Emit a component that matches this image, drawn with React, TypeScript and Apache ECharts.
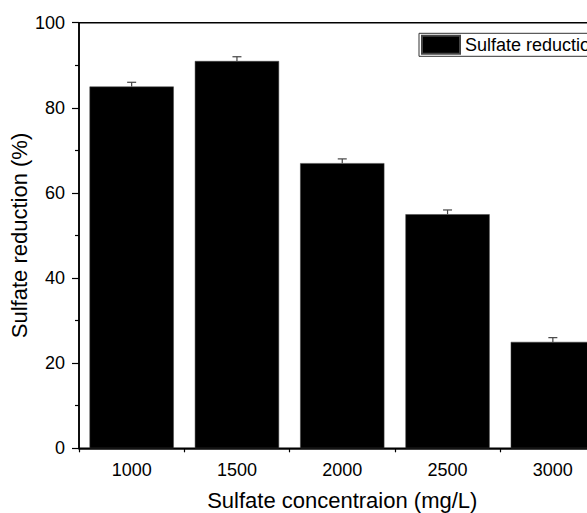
import React, { useEffect, useRef } from "react";
import * as echarts from "echarts";

const categories = ["1000", "1500", "2000", "2500", "3000"];
const reduction = [85, 91, 67, 55, 25];
const errors = [1, 1, 1, 1, 1];
const FONT = "Liberation Sans, Arial, sans-serif";

export default function App() {
  const ref = useRef<HTMLDivElement>(null);
  useEffect(() => {
    if (!ref.current) return;
    const chart = echarts.init(ref.current, null, { renderer: "svg" });
    chart.setOption({
      animation: false,
      backgroundColor: "#fff",
      textStyle: { fontFamily: FONT },
      grid: {
        left: 79,
        top: 22.7,
        width: 526.5,
        bottom: 64.7,
        show: true,
        borderColor: "#000",
        borderWidth: 1.5,
        backgroundColor: "transparent",
        outerBoundsMode: "none",
        containLabel: false,
      },
      legend: {
        data: [{ name: "Sulfate reduction", icon: "rect" }],
        left: 419,
        top: 33.3,
        itemWidth: 38,
        itemHeight: 18,
        padding: [1.5, 6, 1.5, 2],
        borderColor: "#333",
        borderWidth: 1,
        borderRadius: 0,
        itemGap: 5,
        textStyle: { fontSize: 18, color: "#000", fontFamily: FONT },
      },
      xAxis: [
        {
          type: "category",
          data: categories,
          boundaryGap: true,
          axisLine: { lineStyle: { color: "#000", width: 1.5 } },
          axisTick: { alignWithLabel: true, length: 5, lineStyle: { color: "#000", width: 1.2 } },
          axisLabel: { fontSize: 18, color: "#000", margin: 13, fontFamily: FONT },
          name: "Sulfate concentraion (mg/L)",
          nameLocation: "middle",
          nameGap: 41,
          nameMoveOverlap: false,
          nameTextStyle: { fontSize: 22, color: "#000", fontFamily: FONT },
          splitLine: { show: false },
        },
        {
          type: "category",
          data: categories,
          boundaryGap: true,
          position: "bottom",
          axisLine: { show: false },
          axisTick: { show: true, length: 4, lineStyle: { color: "#000", width: 1.2 } },
          axisLabel: { show: false },
          splitLine: { show: false },
        },
      ],
      yAxis: {
        type: "value",
        min: 0,
        max: 100,
        interval: 20,
        axisLine: { show: true, lineStyle: { color: "#000", width: 1.5 } },
        axisTick: { show: true, length: 7, lineStyle: { color: "#000", width: 1.2 } },
        minorTick: { show: true, splitNumber: 2, length: 4, lineStyle: { color: "#000", width: 1.2 } },
        splitLine: { show: false },
        axisLabel: { fontSize: 18, color: "#000", margin: 14, fontFamily: FONT },
        name: "Sulfate reduction (%)",
        nameLocation: "middle",
        nameGap: 49,
        nameMoveOverlap: false,
        nameTextStyle: { fontSize: 22, color: "#000", fontFamily: FONT },
      },
      series: [
        {
          name: "Sulfate reduction",
          type: "bar",
          data: reduction,
          barWidth: "80%",
          itemStyle: { color: "#000", borderColor: "#444", borderWidth: 0.5 },
          xAxisIndex: 0,
        },
        {
          name: "err",
          type: "custom",
          xAxisIndex: 0,
          data: reduction.map((v, i) => [i, v, errors[i]]),
          renderItem: (params: any, api: any) => {
            const i = api.value(0);
            const v = api.value(1);
            const e = api.value(2);
            const top = api.coord([i, v + e]);
            const base = api.coord([i, v]);
            const hw = 4.5;
            return {
              type: "group",
              children: [
                { type: "line", shape: { x1: top[0], y1: top[1], x2: base[0], y2: base[1] }, style: { stroke: "#444", lineWidth: 1.2 } },
                { type: "line", shape: { x1: top[0] - hw, y1: top[1], x2: top[0] + hw, y2: top[1] }, style: { stroke: "#444", lineWidth: 1.2 } },
              ],
            };
          },
          z: 5,
        },
      ],
    });
    return () => chart.dispose();
  }, []);
  return (
    <div style={{ position: "fixed", left: 0, top: 0, width: 587, height: 513, overflow: "hidden", background: "#fff" }}>
      <div ref={ref} style={{ width: 700, height: 513 }} />
    </div>
  );
}
